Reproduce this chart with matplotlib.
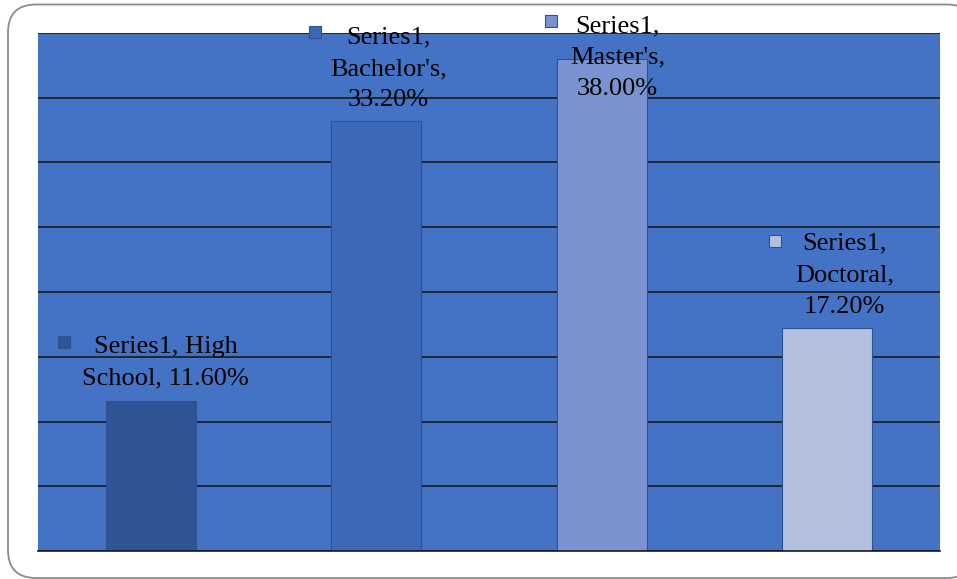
import matplotlib.pyplot as plt
from matplotlib.patches import FancyBboxPatch
from matplotlib.transforms import ScaledTranslation

categories = ["High School", "Bachelor's", "Master's", "Doctoral"]
values = [11.6, 33.2, 38.0, 17.2]
series_name = "Series1"
label_lines = [
    "Series1, High\nSchool, 11.60%",
    "Series1,\nBachelor's,\n33.20%",
    "Series1,\nMaster's,\n38.00%",
    "Series1,\nDoctoral,\n17.20%",
]
bar_colors = ["#2F5597", "#3C68B7", "#7A93D0", "#B3BFDF"]

# label offsets in pixels from bar top (text centre, key centre)
text_off = [(15, 38), (12, 52), (16, 1), (17, 53)]
key_off = [(-86.5, 58.5), (-61.5, 89.5), (-50.5, 37.5), (-52, 87.5)]

W, H = 957, 579
fig = plt.figure(figsize=(W / 100, H / 100), dpi=100)
fig.patch.set_facecolor("white")

# rounded frame drawn in pixel units on a background axes
bg = fig.add_axes([0, 0, 1, 1], zorder=-1)
bg.set_xlim(0, W)
bg.set_ylim(H, 0)
bg.axis("off")
bg.add_patch(FancyBboxPatch((8, 4.5), 967, 573.5,
                            boxstyle="round,pad=0,rounding_size=28",
                            facecolor="white", edgecolor="#8c8c8c", linewidth=1.3))

ax = fig.add_axes([38 / W, 1 - 551 / H, (940 - 38) / W, (551 - 33) / H])
ax.set_facecolor("#4472C4")
ax.set_xlim(-0.5, 3.5)
ax.set_ylim(0, 40)
ax.set_yticks(range(0, 41, 5))
ax.yaxis.grid(True, color="#1a1a1a", linewidth=1.2)
ax.set_axisbelow(True)
ax.tick_params(left=False, bottom=False, labelleft=False, labelbottom=False)
for s in ["left", "right", "top"]:
    ax.spines[s].set_visible(False)
ax.spines["bottom"].set_color("#1a1a1a")
ax.spines["bottom"].set_linewidth(1.2)

x = range(len(categories))
ax.bar(x, values, width=0.4, color=bar_colors, edgecolor="#2F528F",
       linewidth=0.8, zorder=2)

for i, v in enumerate(values):
    ax.annotate(label_lines[i], xy=(i, v), xytext=text_off[i],
                textcoords="offset pixels", ha="center", va="center",
                fontsize=19, family="Liberation Serif", color="black",
                linespacing=1.55, zorder=4)
    tr = ax.transData + ScaledTranslation(key_off[i][0] / 100, key_off[i][1] / 100,
                                          fig.dpi_scale_trans)
    ax.plot([i], [v], marker="s", markersize=9.2, color=bar_colors[i],
            markeredgecolor="#2F528F", markeredgewidth=0.8, transform=tr,
            clip_on=False, zorder=4)

fig.savefig("out.png", dpi=100)
